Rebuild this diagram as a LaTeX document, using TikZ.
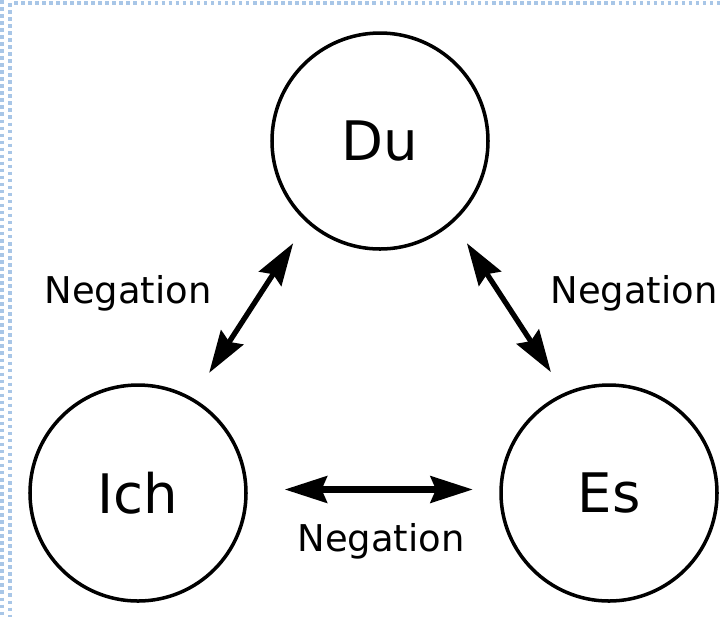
\documentclass[tikz,border=0pt]{standalone}
\usepackage{fontspec}
\setmainfont{DejaVu Sans}
\usetikzlibrary{arrows.meta}
\definecolor{framblue}{RGB}{110,160,215}
\tikzset{
pronoun/.style = { circle, draw = black, line width = 2pt, minimum size = 4.32cm, inner sep = 0pt, font = \fontsize{31}{36}\selectfont },
neg label/.style = { font = \fontsize{21}{25}\selectfont },
neg arrow/.style = { line width = 3pt, {Stealth[length = 24pt, width = 15pt, inset = 3pt]}-{Stealth[length = 24pt, width = 15pt, inset = 3pt]} },
}

\begin{document}
\begin{tikzpicture}
    \useasboundingbox (0, 0) rectangle (14.44, -12.34);
    % frame of the screenshot
    \draw[framblue!60, line width = 2pt, dotted] (0.04, 0) -- (0.04, -12.34);
    \draw[framblue!60, line width = 2pt, dotted] (0.2, -0.06) -- (0.2, -12.34);
    \draw[framblue!60, line width = 2pt, dotted] (0.28, -0.06) -- (14.44, -0.06);
    % pronouns
    \node[pronoun] (du)  at (7.60, -2.82) {Du};
    \node[pronoun] (ich) at (2.76, -9.86) {Ich};
    \node[pronoun] (es)  at (12.18, -9.86) {Es};
    % negations
    \draw[neg arrow, shorten <= 17pt, shorten >= 14pt] (ich.60) -- (du.228);
    \draw[neg arrow, shorten <= 14pt, shorten >= 14pt] (du.312) -- (es.114);
    \draw[neg arrow, line width = 3.8pt, shorten <= 21pt, shorten >= 15pt] ([yshift = 2pt]ich.east) -- ([yshift = 2pt]es.west);
    \node[neg label] (negl) at (2.56, -5.86) {Negation};
    \node[neg label] (negr) at (12.68, -5.86) {Negation};
    \node[neg label] (negb) at (7.62, -10.82) {Negation};
\end{tikzpicture}
\end{document}
